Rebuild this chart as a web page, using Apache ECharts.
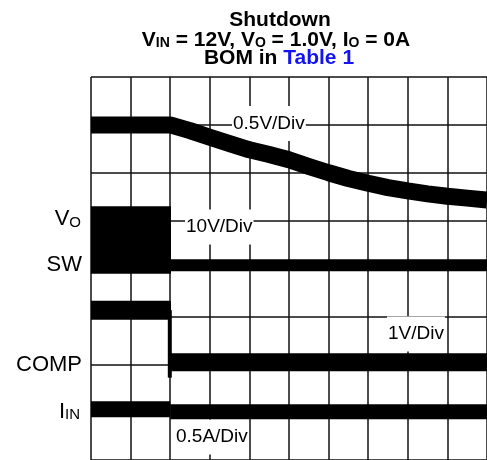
<!DOCTYPE html>
<html><head><meta charset="utf-8">
<script src="https://cdn.jsdelivr.net/npm/echarts@6/dist/echarts.min.js"></script>
<style>html,body{margin:0;padding:0;background:#fff}#c{width:487px;height:460px}</style>
</head><body><div id="c"></div>
<script>
// Screen units: time in horizontal divisions (0..10), level in vertical divisions (0..8)
const timeDivs = 10;
const levelDivs = 8;

// V_O trace (0.5V/Div)
const voTime  = [0, 2.0, 2.5, 3.0, 3.5, 4.0, 4.5, 5.0, 5.5, 6.0, 6.5, 7.0, 7.5, 8.0, 8.5, 9.0, 9.5, 10.0];
const voLevel = [7.0, 7.0, 6.88, 6.74, 6.61, 6.48, 6.38, 6.27, 6.13, 6.00, 5.88, 5.78, 5.69, 5.62, 5.56, 5.51, 5.47, 5.43];

// SW (10V/Div): switching envelope before shutdown, flat level after
const swBlockTime = [0, 2.02];
const swBlockLow  = 3.89;
const swBlockHigh = 5.30;
const swAfterTime  = [2.0, 10];
const swAfterLevel = [4.07, 4.07];

// COMP (1V/Div)
const compBeforeTime  = [0, 2.02];
const compBeforeLevel = [3.13, 3.13];
const compDropTime    = [1.99, 1.99];
const compDropLevel   = [3.13, 1.72];
const compAfterTime   = [1.98, 10];
const compAfterLevel  = [2.04, 2.04];

// I_IN (0.5A/Div)
const iinBeforeTime  = [0, 2.0];
const iinBeforeLevel = [1.06, 1.06];
const iinAfterTime   = [2.0, 10];
const iinAfterLevel  = [1.01, 1.01];

const pairs = (xs, ys) => xs.map((x, i) => [x, ys[i]]);
const FONT = '"Liberation Sans", Arial, Helvetica, sans-serif';
const BLACK = '#000';

const chart = echarts.init(document.getElementById('c'), null, {renderer: 'canvas'});

function lineSeries(name, data, width, join) {
  return {
    name, type: 'line', data, showSymbol: false, symbol: 'none', silent: true,
    lineStyle: {color: BLACK, width: width, cap: 'butt', join: join || 'miter'},
    z: 5, animation: false
  };
}

const divLabelStyle = (text, x, y) => ({
  type: 'text', z: 2,
  style: {
    text, x, y, align: 'left', verticalAlign: 'middle',
    fontSize: 19, fontFamily: FONT, fill: BLACK,
    backgroundColor: '#fff', padding: [8, 1, 8, 1]
  }
});

const mainSub = (size, subSize, offset, weight) => ({
  m: {fontSize: size, fontFamily: FONT, fontWeight: weight, fill: BLACK, lineHeight: size},
  s: {fontSize: subSize, fontFamily: FONT, fontWeight: weight, fill: BLACK,
      lineHeight: Math.max(2, size - 2 * offset), verticalAlign: 'bottom'},
  b: {fontSize: size, fontFamily: FONT, fontWeight: weight, fill: '#1414f0', lineHeight: size}
});

const titleRich = mainSub(21, 14, 4, 'bold');
const leftRich = mainSub(22, 15, 5, 'normal');

chart.setOption({
  animation: false,
  backgroundColor: '#fff',
  grid: {left: 91, top: 77, width: 400, height: 385, containLabel: false},
  xAxis: {
    type: 'value', min: 0, max: timeDivs, interval: 1,
    axisLine: {show: false}, axisTick: {show: false}, axisLabel: {show: false},
    splitLine: {show: true, lineStyle: {color: '#111', width: 1.5}}
  },
  yAxis: {
    type: 'value', min: 0, max: levelDivs, interval: 1,
    axisLine: {show: false}, axisTick: {show: false}, axisLabel: {show: false},
    splitLine: {show: true, lineStyle: {color: '#111', width: 1.5}}
  },
  series: [
    {
      name: 'SW envelope', type: 'custom', silent: true, z: 5,
      data: [[swBlockTime[0], swBlockTime[1], swBlockLow, swBlockHigh]],
      renderItem: function (params, api) {
        const p1 = api.coord([api.value(0), api.value(3)]);
        const p2 = api.coord([api.value(1), api.value(2)]);
        return {type: 'rect', shape: {x: p1[0], y: p1[1], width: p2[0] - p1[0], height: p2[1] - p1[1]},
                style: {fill: BLACK}};
      }
    },
    lineSeries('VO', pairs(voTime, voLevel), 17, 'round'),
    lineSeries('SW', pairs(swAfterTime, swAfterLevel), 12),
    lineSeries('COMP before', pairs(compBeforeTime, compBeforeLevel), 19),
    lineSeries('COMP drop', pairs(compDropTime, compDropLevel), 4),
    lineSeries('COMP after', pairs(compAfterTime, compAfterLevel), 18),
    lineSeries('IIN before', pairs(iinBeforeTime, iinBeforeLevel), 16),
    lineSeries('IIN after', pairs(iinAfterTime, iinAfterLevel), 15)
  ],
  graphic: [
    {type: 'text', z: 100, style: {text: 'Shutdown', x: 280, y: 20, align: 'center', verticalAlign: 'middle',
      fontSize: 21, fontWeight: 'bold', fontFamily: FONT, fill: BLACK}},
    {type: 'text', z: 100, style: {text: '{m|V}{s|IN}{m| = 12V, V}{s|O}{m| = 1.0V, I}{s|O}{m| = 0A}',
      x: 276, y: 40, align: 'center', verticalAlign: 'middle', rich: titleRich}},
    {type: 'text', z: 100, style: {text: '{m|BOM in }{b|Table 1}',
      x: 279, y: 58, align: 'center', verticalAlign: 'middle', rich: titleRich}},

    {type: 'text', z: 100, style: {text: '{m|V}{s|O}', x: 81, y: 219, align: 'right', verticalAlign: 'middle', rich: leftRich}},
    {type: 'text', z: 100, style: {text: '{m|SW}', x: 82, y: 265, align: 'right', verticalAlign: 'middle', rich: leftRich}},
    {type: 'text', z: 100, style: {text: '{m|COMP}', x: 82, y: 364.5, align: 'right', verticalAlign: 'middle', rich: leftRich}},
    {type: 'text', z: 100, style: {text: '{m|I}{s|IN}', x: 80, y: 411.5, align: 'right', verticalAlign: 'middle', rich: leftRich}},

    divLabelStyle('0.5V/Div', 232, 123.5),
    divLabelStyle('10V/Div', 185, 227),
    divLabelStyle('1V/Div', 387, 334),
    divLabelStyle('0.5A/Div', 175, 437)
  ]
});
</script>
</body></html>
